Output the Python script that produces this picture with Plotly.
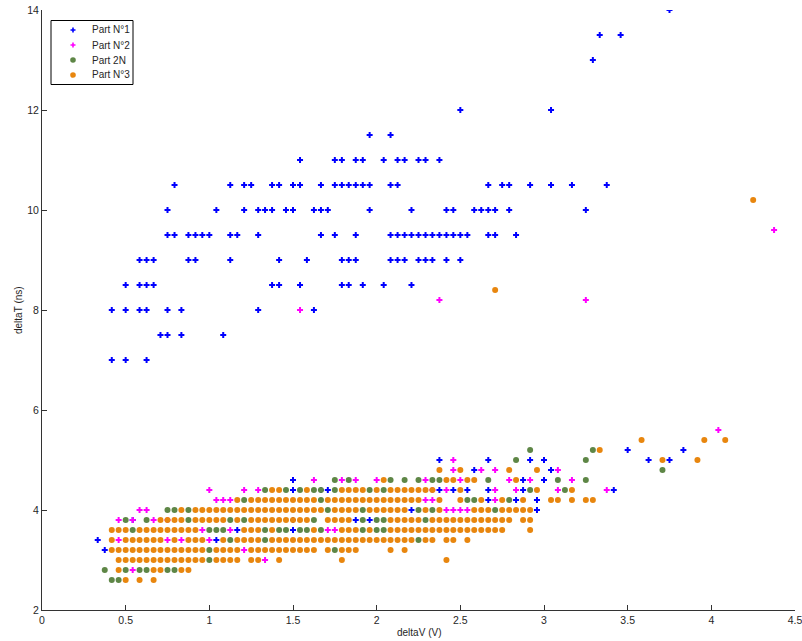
import plotly.graph_objects as go

# ---- data: x (deltaV, V) listed per deltaT row (ns) ----
part1_rows = {
    14.0: [3.75],
    13.5: [3.333, 3.458],
    13.0: [3.292],
    12.0: [2.5, 3.042],
    11.5: [1.958, 2.083],
    11.0: [1.542, 1.75, 1.792, 1.875, 1.917, 2.042, 2.125, 2.167, 2.25, 2.292, 2.375],
    10.5: [0.792, 1.125, 1.208, 1.25, 1.375, 1.417, 1.5, 1.542, 1.667, 1.75, 1.792, 1.833,
           1.875, 1.917, 1.958, 2.083, 2.125, 2.667, 2.75, 2.792, 2.917, 3.042, 3.167, 3.375],
    10.0: [0.75, 1.042, 1.208, 1.292, 1.333, 1.375, 1.458, 1.5, 1.625, 1.667, 1.708, 1.958,
           2.208, 2.417, 2.458, 2.583, 2.625, 2.667, 2.708, 2.792, 3.25],
    9.5: [0.75, 0.792, 0.875, 0.917, 0.958, 1.0, 1.125, 1.167, 1.292, 1.667, 1.75, 1.875,
          2.083, 2.125, 2.167, 2.208, 2.25, 2.292, 2.333, 2.375, 2.417, 2.458, 2.5, 2.542,
          2.667, 2.708, 2.833],
    9.0: [0.583, 0.625, 0.667, 0.875, 0.917, 1.125, 1.417, 1.583, 1.792, 1.833, 1.875, 2.083,
          2.125, 2.167, 2.25, 2.292, 2.333, 2.417, 2.5],
    8.5: [0.5, 0.583, 0.625, 0.667, 1.375, 1.417, 1.542, 1.792, 1.833, 1.917, 2.042, 2.208],
    8.0: [0.417, 0.5, 0.583, 0.625, 0.75, 0.833, 1.292, 1.625],
    7.5: [0.708, 0.75, 0.833, 1.083],
    7.0: [0.417, 0.5, 0.625],
    5.2: [3.5, 3.833],
    5.0: [2.375, 2.667, 2.917, 3.0, 3.625, 3.75],
    4.8: [2.583, 3.042],
    4.6: [1.5, 2.875, 3.0],
    4.4: [1.5, 1.667, 1.708, 2.375, 2.458, 2.542, 2.667, 2.875, 3.417],
    4.2: [2.667, 2.833, 2.958],
    4.0: [2.208, 2.958],
    3.8: [0.542, 1.5, 1.875, 1.958],
    3.6: [1.167, 1.5],
    3.4: [0.333, 1.042],
    3.2: [0.375],
}

part2_rows = {
    9.6: [4.375],
    8.2: [2.375, 3.25],
    8.0: [1.542],
    5.6: [4.042],
    5.0: [2.458],
    4.8: [2.458, 2.625, 2.708, 3.083],
    4.6: [1.625, 1.792, 1.875, 2.0, 2.292, 2.5, 2.792, 2.917, 3.167],
    4.4: [1.0, 1.208, 1.292, 2.333, 2.417, 2.708, 2.833, 3.083, 3.375],
    4.2: [1.042, 1.083, 1.125, 2.292, 2.333, 2.708],
    4.0: [0.583, 0.625, 2.417, 2.458, 2.5, 2.542],
    3.8: [0.458, 0.542, 0.667, 0.75],
    3.6: [0.958, 1.125, 1.708, 1.75],
    3.4: [0.458, 0.75, 0.833, 1.0],
    3.2: [1.208],
    3.0: [1.333],
    2.8: [0.542],
}

part2n_rows = {
    5.2: [2.917, 3.292],
    5.0: [2.833, 3.25],
    4.8: [3.708],
    4.6: [1.75, 1.833, 2.083, 2.167, 2.25, 2.333, 2.375, 2.667, 3.083, 3.25],
    4.4: [1.333, 1.458, 1.542, 1.625, 1.667, 1.75, 1.958, 2.042, 2.917, 3.125],
    4.2: [1.208, 1.667, 2.542, 2.583, 2.792],
    4.0: [0.75, 0.792, 0.875, 1.708, 1.917, 2.25, 2.333, 2.708],
    3.8: [0.5, 0.625, 0.875, 1.125, 1.208, 1.625, 1.917, 2.0, 2.042, 2.292],
    3.6: [0.542, 1.0, 1.042, 1.083, 1.333, 1.417, 1.458, 1.542, 1.583, 1.667, 1.917, 2.0, 2.042],
    3.4: [1.125, 1.333, 2.25],
    3.2: [1.0, 1.75],
    3.0: [1.0],
    2.8: [0.375, 0.5, 0.583, 0.625, 0.75, 0.792],
    2.6: [0.417, 0.458],
}

part3_rows = {
    10.2: [4.25],
    8.4: [2.708],
    5.4: [3.583, 3.958, 4.083],
    5.2: [3.333],
    5.0: [3.708, 3.917],
    4.8: [2.375, 2.5, 2.792, 2.958],
    4.6: [2.042, 2.417, 2.458, 2.542, 2.583, 2.833],
    4.4: [1.375, 1.417, 1.583, 1.792, 1.833, 1.875, 1.917, 2.0, 2.083, 2.125, 2.167, 2.208,
          2.25, 2.292, 2.333, 2.5, 2.958, 3.167],
    4.2: [1.167, 1.25, 1.292, 1.333, 1.375, 1.417, 1.458, 1.5, 1.542, 1.583, 1.625, 1.708,
          1.75, 1.792, 1.833, 1.875, 1.917, 1.958, 2.0, 2.042, 2.083, 2.125, 2.167, 2.208,
          2.25, 2.375, 2.5, 2.625, 2.75, 2.875, 3.042, 3.083, 3.167, 3.25, 3.292],
    4.0: [0.833, 0.917, 0.958, 1.0, 1.042, 1.083, 1.125, 1.167, 1.208, 1.25, 1.292, 1.333,
          1.375, 1.417, 1.458, 1.5, 1.542, 1.583, 1.625, 1.667, 1.75, 1.792, 1.833, 1.875,
          1.958, 2.0, 2.042, 2.083, 2.125, 2.167, 2.292, 2.375, 2.583, 2.625, 2.667, 2.75,
          2.792, 2.833, 2.875, 2.917],
    3.8: [0.708, 0.75, 0.792, 0.833, 0.917, 0.958, 1.0, 1.042, 1.083, 1.167, 1.25, 1.292,
          1.333, 1.375, 1.417, 1.458, 1.5, 1.542, 1.583, 1.708, 1.75, 1.792, 1.833, 2.083,
          2.125, 2.167, 2.208, 2.25, 2.333, 2.375, 2.417, 2.458, 2.5, 2.542, 2.583, 2.625,
          2.667, 2.708, 2.75, 2.792, 2.875, 2.917],
    3.6: [0.417, 0.458, 0.5, 0.583, 0.625, 0.667, 0.708, 0.75, 0.792, 0.833, 0.875, 0.917,
          1.208, 1.25, 1.292, 1.375, 1.625, 1.792, 1.833, 1.875, 1.958, 2.083, 2.125, 2.167,
          2.208, 2.25, 2.292, 2.333, 2.375, 2.417, 2.458, 2.5, 2.542, 2.583, 2.625, 2.667,
          2.708, 2.75, 2.917],
    3.4: [0.417, 0.5, 0.542, 0.583, 0.625, 0.667, 0.708, 0.792, 0.875, 0.917, 0.958, 1.083,
          1.167, 1.208, 1.25, 1.292, 1.375, 1.417, 1.458, 1.5, 1.542, 1.583, 1.625, 1.667,
          1.708, 1.75, 1.792, 1.833, 1.875, 1.917, 1.958, 2.0, 2.042, 2.083, 2.125, 2.167,
          2.208, 2.292, 2.333, 2.417, 2.458, 2.542],
    3.2: [0.417, 0.458, 0.5, 0.542, 0.583, 0.625, 0.667, 0.708, 0.75, 0.792, 0.833, 0.875,
          0.917, 0.958, 1.042, 1.083, 1.125, 1.167, 1.25, 1.292, 1.333, 1.375, 1.417, 1.458,
          1.5, 1.542, 1.583, 1.625, 1.708, 1.792, 1.833, 1.875, 2.083, 2.167],
    3.0: [0.458, 0.5, 0.542, 0.583, 0.625, 0.667, 0.708, 0.75, 0.792, 0.833, 0.875, 0.917,
          0.958, 1.042, 1.083, 1.125, 1.167, 1.25, 1.292, 1.417, 1.792, 2.417],
    2.8: [0.458, 0.667, 0.708, 0.833, 0.875],
    2.6: [0.5, 0.583, 0.667],
}

series_names = ["Part N°1", "Part N°2", "Part 2N", "Part N°3"]
x_ticks = [0, 0.5, 1, 1.5, 2, 2.5, 3, 3.5, 4, 4.5]
x_tick_labels = ["0", "0.5", "1", "1.5", "2", "2.5", "3", "3.5", "4", "4.5"]
y_ticks = [2, 4, 6, 8, 10, 12, 14]
y_tick_labels = ["2", "4", "6", "8", "10", "12", "14"]


def flatten(rows):
    xs, ys = [], []
    for yv, xl in rows.items():
        for xv in xl:
            xs.append(xv)
            ys.append(yv)
    return xs, ys


styles = [
    dict(color="#0000FF", symbol="cross", size=5),
    dict(color="#FF00FF", symbol="cross", size=5),
    dict(color="#5E8646", symbol="circle", size=6),
    dict(color="#E8860E", symbol="circle", size=6),
]

fig = go.Figure()
for name, rows, st in zip(series_names,
                          [part1_rows, part2_rows, part2n_rows, part3_rows], styles):
    xs, ys = flatten(rows)
    fig.add_trace(go.Scatter(
        x=xs, y=ys, mode="markers", name=name, showlegend=False,
        marker=dict(color=st["color"], symbol=st["symbol"], size=st["size"],
                    line=dict(width=0)),
    ))

# ---- compact MATLAB-style legend (box, sample markers, text) ----
L, R, T, B = 42, 795, 10, 610          # plot-area pixels
W, H = R - L, B - T


def px(xp):
    return (xp - L) / W


def py(yp):
    return (B - yp) / H


shapes = [dict(type="rect", xref="paper", yref="paper",
               x0=px(51), x1=px(133), y0=py(20.5), y1=py(84.5),
               line=dict(color="#000000", width=1), fillcolor="white", layer="above")]
annotations = []
row_y = [30, 45, 60, 75]
cross_path = ("M-2.5,-0.8 H-0.8 V-2.5 H0.8 V-0.8 H2.5 V0.8 H0.8 V2.5 "
              "H-0.8 V0.8 H-2.5 Z")
for name, st, ry in zip(series_names, styles, row_y):
    common = dict(xref="paper", yref="paper", xsizemode="pixel", ysizemode="pixel",
                  xanchor=px(73), yanchor=py(ry), fillcolor=st["color"],
                  line=dict(width=0), layer="above")
    if st["symbol"] == "circle":
        shapes.append(dict(type="circle", x0=-2.8, x1=2.8, y0=-2.8, y1=2.8, **common))
    else:
        shapes.append(dict(type="path", path=cross_path, **common))
    annotations.append(dict(text=name, xref="paper", yref="paper", x=px(90),
                            y=py(ry), xanchor="left", yanchor="middle",
                            showarrow=False, font=dict(size=10, color="#262626")))

annotations += [
    dict(text="deltaV (V)", xref="paper", yref="paper", x=0.5, y=py(632),
         xanchor="center", yanchor="middle", showarrow=False,
         font=dict(size=10, color="#262626")),
    dict(text="deltaT (ns)", xref="paper", yref="paper", x=px(18), y=0.5,
         xanchor="center", yanchor="middle", showarrow=False, textangle=-90,
         font=dict(size=10, color="#262626")),
]

axis_color = "#333333"
fig.update_layout(
    width=802, height=641,
    margin=dict(l=L, r=802 - R, t=T, b=641 - B, autoexpand=False),
    paper_bgcolor="white", plot_bgcolor="white",
    font=dict(family="Liberation Sans, Arial, sans-serif", size=10, color="#262626"),
    showlegend=False,
    xaxis=dict(range=[0, 4.5], tickmode="array", tickvals=x_ticks, ticktext=x_tick_labels,
               showgrid=False, zeroline=False, showline=True, linecolor=axis_color,
               linewidth=1, ticks="inside", ticklen=5, tickcolor=axis_color, mirror=False,
               ticklabeloverflow="allow", automargin=False, tickfont=dict(size=10.5)),
    yaxis=dict(range=[2, 14], tickmode="array", tickvals=y_ticks, ticktext=y_tick_labels,
               showgrid=False, zeroline=False, showline=True, linecolor=axis_color,
               linewidth=1, ticks="inside", ticklen=5, tickcolor=axis_color, mirror=False,
               automargin=False, tickfont=dict(size=10.5)),
    shapes=shapes,
    annotations=annotations,
)

fig.write_html("out.html")
